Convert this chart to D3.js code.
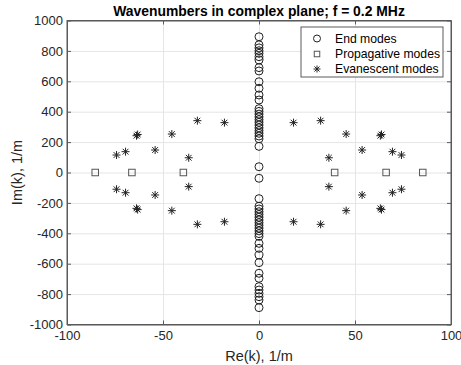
<!DOCTYPE html>
<html lang="en">
<head>
  <meta charset="utf-8">
  <title>Wavenumbers in complex plane</title>
  <style>
    body { margin: 0; background: #fff; }
    svg { display: block; font-family: "Liberation Sans", Arial, Helvetica, sans-serif; }
    .grid line { stroke: #e5e5e5; stroke-width: 1; }
    .grid .domain { display: none; }
  </style>
</head>
<body>
  <div id="chart"></div>
  <script src="https://d3js.org/d3.v7.min.js"></script>
  <script>
    // End modes (Re = 0), imaginary parts, 1/m
    var endIm = [893, 840, 820, 801, 784, 762, 740, 690, 668, 597, 554, 510, 477,
                 420, 402, 384, 366, 348, 330, 312, 294, 276, 258, 240, 222, 172, 38,
                 -38, -172, -222, -240, -258, -276, -294, -312, -330, -348, -366, -384,
                 -402, -420, -466, -499, -543, -593, -663, -696, -751, -773, -795, -817,
                 -839, -889];

    // Propagative modes (Im = 0), real parts
    var propRe = [-85.3, -66.2, -39.4, 39.4, 66.2, 85.3];

    // Evanescent modes
    var evanRe = [-74.2, -69.5, -63.8, -63.2, -54.1, -45.4, -36.6, -32.1, -18.0,
                  18.0, 32.1, 36.4, 45.4, 53.7, 63.2, 63.8, 69.5, 74.2,
                  -74.2, -69.5, -63.8, -63.2, -54.1, -45.4, -36.6, -32.1, -18.0,
                  18.0, 32.1, 36.4, 45.4, 53.7, 63.2, 63.8, 69.5, 74.2];
    var evanIm = [115, 137, 242, 250, 148, 253, 97, 341, 328,
                  328, 341, 97, 253, 148, 242, 250, 137, 115,
                  -110, -133, -236, -244, -148, -251, -93, -341, -324,
                  -324, -341, -93, -251, -148, -236, -244, -133, -110];

    var xTicks = [-100, -50, 0, 50, 100];
    var yTicks = [-1000, -800, -600, -400, -200, 0, 200, 400, 600, 800, 1000];
    var legendLabels = ["End modes", "Propagative modes", "Evanescent modes"];

    var W = 461, H = 365;
    var pLeft = 67, pRight = 451, pTop = 20.5, pBottom = 324.5;

    var svg = d3.select("#chart").append("svg")
      .attr("width", W)
      .attr("height", H);

    var x = d3.scaleLinear().domain([-100, 100]).range([pLeft, pRight]);
    var y = d3.scaleLinear().domain([-1000, 1000]).range([pBottom, pTop]);
    var fmt = function(d) { return String(d); };

    // grid
    svg.append("g")
      .attr("class", "grid")
      .attr("transform", "translate(0," + pBottom + ")")
      .call(d3.axisBottom(x).tickValues(xTicks).tickSize(-(pBottom - pTop)).tickFormat(""));
    svg.append("g")
      .attr("class", "grid")
      .attr("transform", "translate(" + pLeft + ",0)")
      .call(d3.axisLeft(y).tickValues(yTicks).tickSize(-(pRight - pLeft)).tickFormat(""));

    var axisColor = "#5a5a5a";

    function styleAxis(g) {
      g.select(".domain").attr("stroke", axisColor);
      g.selectAll(".tick line").attr("stroke", axisColor);
      g.selectAll(".tick text").attr("font-family", null).attr("font-size", 13).attr("fill", "#262626");
    }

    svg.append("g")
      .attr("transform", "translate(0," + pBottom + ")")
      .call(d3.axisBottom(x).tickValues(xTicks).tickSizeInner(-4).tickSizeOuter(0).tickPadding(6).tickFormat(fmt))
      .call(styleAxis);
    svg.append("g")
      .attr("transform", "translate(0," + pTop + ")")
      .call(d3.axisTop(x).tickValues(xTicks).tickSizeInner(-4).tickSizeOuter(0).tickFormat(""))
      .call(styleAxis);
    svg.append("g")
      .attr("transform", "translate(" + pLeft + ",0)")
      .call(d3.axisLeft(y).tickValues(yTicks).tickSizeInner(-4).tickSizeOuter(0).tickPadding(4).tickFormat(fmt))
      .call(styleAxis);
    svg.append("g")
      .attr("transform", "translate(" + pRight + ",0)")
      .call(d3.axisRight(y).tickValues(yTicks).tickSizeInner(-4).tickSizeOuter(0).tickFormat(""))
      .call(styleAxis);

    var markColor = "#222";

    // marker drawing helpers
    function circleMark(g, cx, cy, r) {
      g.append("circle").attr("cx", cx).attr("cy", cy).attr("r", r)
        .attr("fill", "none").attr("stroke", markColor).attr("stroke-width", 1);
    }
    function squareMark(g, cx, cy, s) {
      g.append("rect").attr("x", cx - s / 2).attr("y", cy - s / 2)
        .attr("width", s).attr("height", s)
        .attr("fill", "none").attr("stroke", "#555").attr("stroke-width", 1);
    }
    function starMark(g, cx, cy, r) {
      var d = "M" + (cx - r) + "," + cy + "L" + (cx + r) + "," + cy +
              "M" + cx + "," + (cy - r) + "L" + cx + "," + (cy + r);
      var q = r * 0.72;
      d += "M" + (cx - q) + "," + (cy - q) + "L" + (cx + q) + "," + (cy + q) +
           "M" + (cx - q) + "," + (cy + q) + "L" + (cx + q) + "," + (cy - q);
      g.append("path").attr("d", d).attr("stroke", markColor).attr("stroke-width", 1).attr("fill", "none");
    }

    var marks = svg.append("g");
    endIm.forEach(function(v) { circleMark(marks, x(0), y(v), 4); });
    propRe.forEach(function(v) { squareMark(marks, x(v), y(0), 6.5); });
    evanRe.forEach(function(v, i) { starMark(marks, x(v), y(evanIm[i]), 4); });

    // axis box on top
    svg.append("rect")
      .attr("x", pLeft).attr("y", pTop)
      .attr("width", pRight - pLeft).attr("height", pBottom - pTop)
      .attr("fill", "none").attr("stroke", axisColor).attr("stroke-width", 1);

    // title and labels
    svg.append("text")
      .attr("x", (pLeft + pRight) / 2).attr("y", 16)
      .attr("text-anchor", "middle")
      .attr("font-weight", "bold").attr("font-size", 13.9)
      .attr("fill", "#000")
      .text("Wavenumbers in complex plane; f = 0.2 MHz");
    svg.append("text")
      .attr("x", (pLeft + pRight) / 2).attr("y", 361)
      .attr("text-anchor", "middle")
      .attr("font-size", 14.5).attr("fill", "#262626")
      .text("Re(k), 1/m");
    svg.append("text")
      .attr("transform", "translate(22," + (pTop + pBottom) / 2 + ") rotate(-90)")
      .attr("text-anchor", "middle")
      .attr("font-size", 14.5).attr("fill", "#262626")
      .text("Im(k), 1/m");

    // legend
    var lg = svg.append("g");
    lg.append("rect")
      .attr("x", 301).attr("y", 27).attr("width", 142).attr("height", 50)
      .attr("fill", "#fff").attr("stroke", axisColor).attr("stroke-width", 1);
    var rowsY = [38.5, 54, 69];
    circleMark(lg, 317, rowsY[0], 3.5);
    squareMark(lg, 317, rowsY[1], 5.5);
    starMark(lg, 317, rowsY[2], 3.5);
    legendLabels.forEach(function(t, i) {
      lg.append("text")
        .attr("x", 335).attr("y", rowsY[i] + 4.3)
        .attr("font-size", 12.2).attr("fill", "#000")
        .text(t);
    });
  </script>
</body>
</html>
